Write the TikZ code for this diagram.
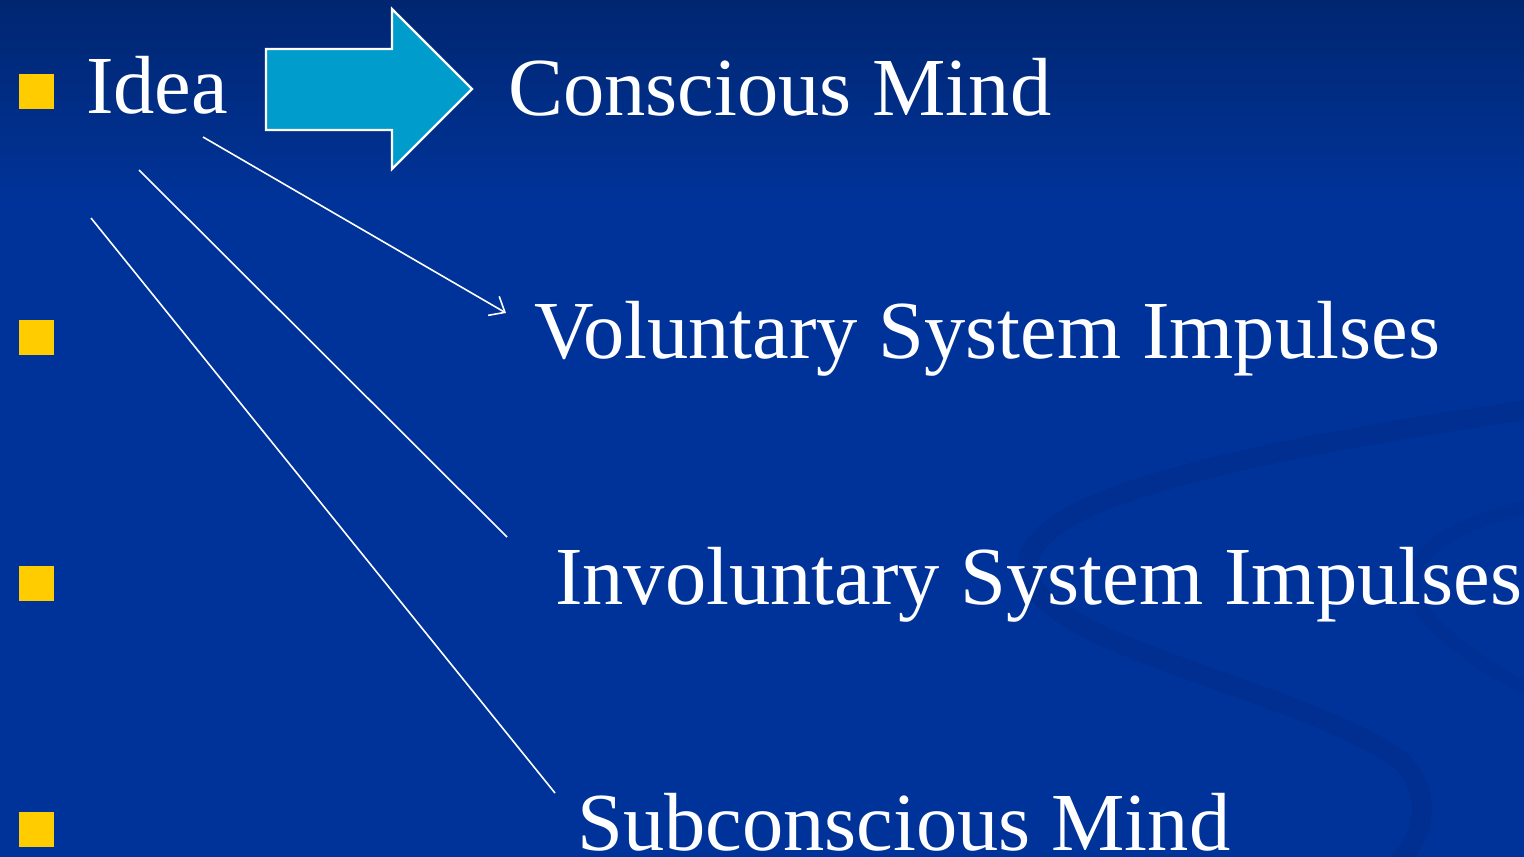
\documentclass[tikz,border=0pt]{standalone}
\usepackage{fontspec}
\setmainfont{Liberation Serif}
\usetikzlibrary{arrows.meta}
\definecolor{bgmain}{RGB}{0,51,153}
\definecolor{bgtop}{RGB}{0,38,112}
\definecolor{swirl}{RGB}{0,36,120}
\definecolor{bullety}{RGB}{255,204,0}
\definecolor{arrowfill}{RGB}{0,156,204}
\tikzset{
  label/.style={anchor=base west, inner sep=0pt, text=white, font=\fontsize{82.5}{90}\selectfont},
  bulletbox/.style={fill=bullety, draw=none, minimum size=35pt, inner sep=0pt, anchor=north west},
  link/.style={draw=white, line width=1.6pt},
  bigarrow/.style={fill=arrowfill, draw=white, line width=2.2pt, line join=miter},
}
\begin{document}
\begin{tikzpicture}[x=1pt,y=-1pt]
\useasboundingbox (0,0) rectangle (1524,857);
\fill[bgmain] (0,0) rectangle (1524,857);
\shade[top color=bgtop, bottom color=bgmain] (0,0) rectangle (1524,200);
% faint swirl in background
\draw[swirl, opacity=0.22, line width=20pt, line cap=round]
  (1560,405) .. controls (1250,450) and (1000,500) .. (1030,580)
  .. controls (1060,650) and (1300,690) .. (1400,760)
  .. controls (1440,800) and (1420,850) .. (1380,880);
\draw[swirl, opacity=0.15, line width=14pt]
  (1560,500) .. controls (1450,520) and (1380,560) .. (1430,620)
  .. controls (1470,660) and (1520,690) .. (1560,700);

% bullets
\node[bulletbox] (b1) at (19,74) {};
\node[bulletbox] (b2) at (19,320) {};
\node[bulletbox] (b3) at (19,566) {};
\node[bulletbox] (b4) at (19,812) {};

% texts
\node[label] (idea) at (86,113) {Idea};
\node[label] (conscious) at (508,115) {Conscious Mind};
\node[label] (voluntary) at (534,358) {Voluntary System Impulses};
\node[label] (involuntary) at (555,604) {Involuntary System Impulses};
\node[label] (subconscious) at (577,850) {Subconscious Mind};

% big block arrow
\draw[bigarrow] (266,49) -- (392,49) -- (392,9) -- (472,89) -- (392,169) -- (392,130) -- (266,130) -- cycle;

% connectors
\coordinate (s1) at (203,137);
\coordinate (e1) at (506,313);
\coordinate (s2) at (139,170);
\coordinate (e2) at (507,537);
\coordinate (s3) at (91,218);
\coordinate (e3) at (555,793);
\draw[link, -{Straight Barb[length=13pt,width=22pt,line width=1.6pt]}] (s1) -- (e1);
\draw[link] (s2) -- (e2);
\draw[link] (s3) -- (e3);
\end{tikzpicture}
\end{document}
